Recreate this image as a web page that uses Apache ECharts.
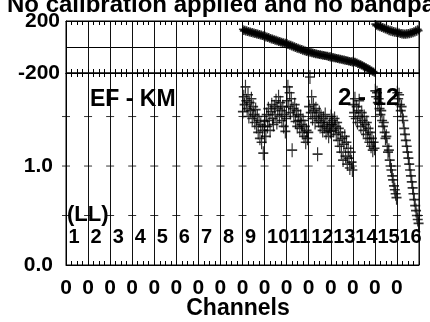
<!DOCTYPE html>
<html><head><meta charset="utf-8">
<script src="https://cdn.jsdelivr.net/npm/echarts@6/dist/echarts.min.js"></script>
<style>html,body{margin:0;padding:0;background:#fff;}#c{width:430px;height:322px;}</style>
</head><body><div id="c"></div>
<script>
// ---- data ----
const subbandLabels = ['1','2','3','4','5','6','7','8','9','10','11','12','13','14','15','16'];
const xTickLabel = '0';
const phaseTicks = [-200, 0, 200];
const ampTickValues = [0.5, 1.0, 1.5];
const titleText = 'No calibration applied and no bandpass';
const baselineText = 'EF - KM';
const rightText = '2 - 12';
const polText = '(LL)';
const xName = 'Channels';

// phase (degrees) per sub-band 9..16
const phaseSB9  = [136, 124, 132, 120, 128, 116, 124, 112, 120, 108, 116, 104, 112, 100, 108, 96, 104, 92, 100, 88, 96, 84, 90, 80];
const phaseSB10 = [86, 74, 80, 70, 76, 64, 70, 58, 66, 54, 60, 48, 56, 44, 50, 38, 46, 34, 40, 30, 36, 24, 32, 22];
const phaseSB11 = [28, 16, 22, 10, 18, 4, 12, -2, 6, -8, 0, -14, -6, -18, -12, -24, -16, -28, -22, -32, -26, -38, -30, -40];
const phaseSB12 = [-32, -44, -38, -48, -42, -52, -46, -56, -50, -58, -54, -62, -56, -64, -60, -68, -62, -70, -66, -72, -68, -76, -72, -80];
const phaseSB13 = [-70, -82, -76, -86, -80, -88, -84, -92, -86, -96, -90, -98, -94, -102, -96, -106, -100, -108, -104, -112, -108, -116, -110, -120];
const phaseSB14 = [-106, -118, -114, -124, -120, -130, -126, -136, -132, -142, -140, -150, -148, -158, -156, -166, -164, -174, -172, -182, -180, -190, -188, -198];
const phaseSB15 = [176, 164, 170, 158, 166, 152, 160, 146, 154, 140, 148, 134, 142, 128, 136, 122, 132, 118, 128, 114, 124, 110, 120, 108];
const phaseSB16 = [118, 106, 112, 100, 108, 96, 106, 94, 104, 94, 106, 96, 108, 98, 112, 102, 116, 106, 122, 112, 128, 118, 136, 126];

// amplitude per sub-band 9..16
const ampSB9  = [1.55, 1.70, 1.62, 1.80, 1.66, 1.58, 1.72, 1.50, 1.64, 1.56, 1.68, 1.48, 1.60, 1.52, 1.44, 1.57, 1.40, 1.50, 1.34, 1.46, 1.28, 1.42, 1.24, 1.36, 1.13, 1.40];
const ampSB10 = [1.45, 1.30, 1.52, 1.40, 1.58, 1.46, 1.36, 1.55, 1.62, 1.48, 1.42, 1.60, 1.52, 1.66, 1.44, 1.58, 1.70, 1.50, 1.64, 1.56, 1.46, 1.60, 1.40, 1.52, 1.35, 1.48];
const ampSB11 = [1.66, 1.80, 1.60, 1.74, 1.54, 1.68, 1.16, 1.58, 1.50, 1.62, 1.45, 1.56, 1.40, 1.52, 1.46, 1.38, 1.50, 1.42, 1.34, 1.46, 1.30, 1.40, 1.24, 1.36, 1.28, 1.34];
const ampSB12 = [1.60, 1.90, 1.54, 1.70, 1.48, 1.62, 1.56, 1.44, 1.58, 1.50, 1.12, 1.46, 1.54, 1.40, 1.50, 1.44, 1.36, 1.48, 1.40, 1.52, 1.34, 1.44, 1.38, 1.30, 1.42, 1.35];
const ampSB13 = [1.50, 1.42, 1.46, 1.36, 1.48, 1.40, 1.32, 1.44, 1.26, 1.38, 1.20, 1.34, 1.14, 1.28, 1.06, 1.22, 1.30, 1.10, 1.24, 1.02, 1.18, 1.08, 0.98, 1.14, 1.04, 0.96];
const ampSB14 = [1.62, 1.54, 1.68, 1.48, 1.60, 1.44, 1.56, 1.66, 1.50, 1.40, 1.54, 1.46, 1.36, 1.50, 1.42, 1.32, 1.44, 1.28, 1.38, 1.24, 1.34, 1.20, 1.28, 1.16, 1.24, 1.18];
const ampSB15 = [1.76, 1.70, 1.74, 1.64, 1.68, 1.58, 1.52, 1.56, 1.46, 1.40, 1.44, 1.34, 1.28, 1.30, 1.20, 1.14, 1.16, 1.06, 1.00, 0.96, 0.90, 0.86, 0.80, 0.76, 0.72, 0.68];
const ampSB16 = [1.74, 1.68, 1.72, 1.62, 1.56, 1.60, 1.50, 1.46, 1.38, 1.32, 1.26, 1.20, 1.14, 1.08, 1.02, 0.96, 0.90, 0.84, 0.78, 0.72, 0.66, 0.60, 0.55, 0.50, 0.46, 0.42];

const phaseBySB = {8: phaseSB9, 9: phaseSB10, 10: phaseSB11, 11: phaseSB12, 12: phaseSB13, 13: phaseSB14, 14: phaseSB15, 15: phaseSB16};
const ampBySB   = {8: ampSB9, 9: ampSB10, 10: ampSB11, 11: ampSB12, 12: ampSB13, 13: ampSB14, 14: ampSB15, 15: ampSB16};

function toXY(bySB) {
  const out = [];
  Object.keys(bySB).forEach(k => {
    const arr = bySB[k]; const n = arr.length;
    arr.forEach((v, j) => out.push([Number(k) + (j + 0.5) / n, v]));
  });
  return out;
}
const phasePts = toXY(phaseBySB);
const ampPts = toXY(ampBySB);
const tickMarks = [];
for (let k = 0; k <= subbandLabels.length; k++) ampTickValues.forEach(v => tickMarks.push([k, v]));

const FONT = 'Liberation Sans';
const PLUS = 'path://M0,5L10,5M5,0L5,10';
const nSB = subbandLabels.length;

function xAx(grid, pos, labels, split) {
  return {
    type: 'value', gridIndex: grid, position: pos, min: 0, max: nSB, interval: 1,
    axisLine: {show: true, onZero: false, lineStyle: {color: '#000', width: 1}},
    axisTick: {show: true, inside: true, length: 4, lineStyle: {color: '#000'}},
    minorTick: {show: true, splitNumber: 4, length: 4, lineStyle: {color: '#000'}},
    axisLabel: labels ? {show: true, margin: 13, fontFamily: FONT, fontWeight: 'bold', fontSize: 21, color: '#000',
      formatter: v => (v < nSB ? xTickLabel : ''), showMaxLabel: true} : {show: false},
    splitLine: {show: split, lineStyle: {color: '#111', width: 1}}
  };
}

const chart = echarts.init(document.getElementById('c'), null, {renderer: 'canvas'});
chart.setOption({
  animation: false,
  backgroundColor: '#fff',
  grid: [
    {left: 66, right: 11, top: 21, height: 52, show: true, borderColor: '#000', borderWidth: 1, backgroundColor: 'transparent'},
    {left: 66, right: 11, top: 73, height: 192, show: true, borderColor: '#000', borderWidth: 1, backgroundColor: 'transparent'}
  ],
  xAxis: [xAx(0, 'bottom', false, true), xAx(0, 'top', false, false), xAx(1, 'bottom', true, true), xAx(1, 'top', false, false)],
  yAxis: [
    {type: 'value', gridIndex: 0, min: phaseTicks[0], max: phaseTicks[2], interval: 200,
      axisLine: {show: true, lineStyle: {color: '#000'}}, axisTick: {show: false},
      axisLabel: {margin: 6, fontFamily: FONT, fontWeight: 'bold', fontSize: 21, color: '#000', formatter: v => (v === 0 ? '' : String(v))},
      splitLine: {show: true, lineStyle: {color: '#000', width: 1}}},
    {type: 'value', gridIndex: 1, min: 0, max: 1.94, interval: 0.5,
      axisLine: {show: true, lineStyle: {color: '#000'}}, axisTick: {show: false},
      axisLabel: {margin: 13, showMaxLabel: false, fontFamily: FONT, fontWeight: 'bold', fontSize: 21, color: '#000',
        formatter: v => (Math.abs(v - Math.round(v)) < 1e-9 ? v.toFixed(1) : '')},
      splitLine: {show: false}}
  ],
  series: [
    {type: 'scatter', xAxisIndex: 0, yAxisIndex: 0, data: phasePts, symbol: PLUS, symbolSize: [8, 8], clip: true, silent: true,
      itemStyle: {color: '#000', borderColor: '#000', borderWidth: 1.6}},
    {type: 'scatter', xAxisIndex: 2, yAxisIndex: 1, data: ampPts, symbol: PLUS, symbolSize: [10, 14], clip: true, silent: true,
      itemStyle: {color: '#000', borderColor: '#000', borderWidth: 1.4}},
    {type: 'scatter', xAxisIndex: 2, yAxisIndex: 1, data: tickMarks, symbol: 'rect', symbolSize: [8, 1], clip: true, silent: true,
      itemStyle: {color: '#000'}}
  ]
});

const g = [];
const txt = (s, x, y, size, align) => ({type: 'text', silent: true, z: 100,
  style: {text: s, x: x, y: y, fill: '#000', font: 'bold ' + size + 'px "' + FONT + '"', textAlign: align || 'left', textVerticalAlign: 'middle'}});
g.push(txt(titleText, 7, 5, 24));
g.push(txt(baselineText, 90, 100, 23));
g.push(txt(rightText, 338, 98, 24));
g.push(txt(polText, 67, 215, 22));
g.push(txt(xName, 238, 309, 23, 'center'));
subbandLabels.forEach((s, k) => {
  const p = chart.convertToPixel({xAxisIndex: 2, yAxisIndex: 1}, [k, 0.28]);
  g.push(txt(s, p[0] + 2.5, p[1], 20));
});
chart.setOption({graphic: g});
</script></body></html>
